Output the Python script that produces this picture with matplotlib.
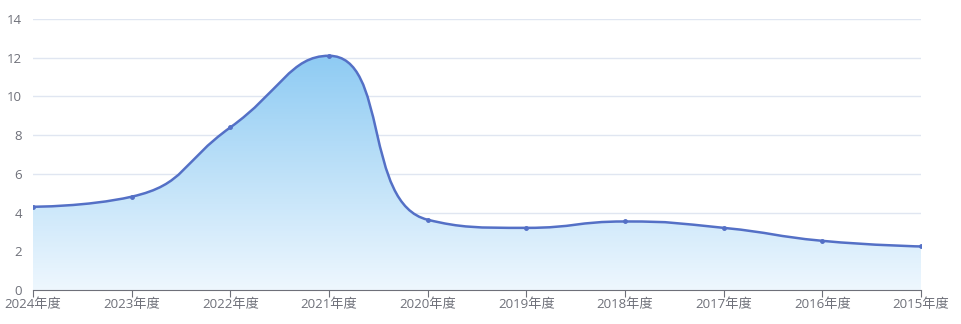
import numpy as np
import matplotlib
matplotlib.use("Agg")
import matplotlib.pyplot as plt
from matplotlib.path import Path
from matplotlib.patches import PathPatch
from matplotlib.colors import LinearSegmentedColormap

plt.rcParams['font.family'] = ['Open Sans', 'Noto Sans CJK SC', 'DejaVu Sans']

years = ['2024年度', '2023年度', '2022年度', '2021年度', '2020年度',
         '2019年度', '2018年度', '2017年度', '2016年度', '2015年度']
values = [4.30, 4.82, 8.40, 12.10, 3.63, 3.21, 3.54, 3.21, 2.54, 2.25]

line_color = '#5470c6'
grid_color = '#e0e6f1'
text_color = '#6e7079'

fig = plt.figure(figsize=(9.62, 3.24), dpi=100)
ax = fig.add_axes([33 / 962, 34 / 324, 888 / 962, 271 / 324])
x = np.arange(len(years))
ax.set_xlim(0, len(years) - 1)
ax.set_ylim(0, 14)


def smooth_path(px, py, smooth=0.5):
    # echarts-like bezier smoothing, done in pixel space
    pts = ax.transData.transform(np.column_stack([px, py]))
    n = len(pts)
    verts = [tuple(pts[0])]
    codes = [Path.MOVETO]
    cp0 = pts[0].copy()
    for k in range(1, n):
        prev = pts[k - 1]
        cur = pts[k]
        if k >= n - 1:
            cp1 = cur.copy()
            nxt_cp = cur.copy()
        else:
            nxt = pts[k + 1]
            v = nxt - prev
            lp = np.hypot(*(cur - prev))
            ln = np.hypot(*(nxt - cur))
            r = ln / (ln + lp)
            ncp = cur + v * smooth * r
            ncp = np.minimum(ncp, np.maximum(nxt, cur))
            ncp = np.maximum(ncp, np.minimum(nxt, cur))
            v = ncp - cur
            cp1 = cur - v * lp / ln
            cp1 = np.minimum(cp1, np.maximum(prev, cur))
            cp1 = np.maximum(cp1, np.minimum(prev, cur))
            v = cur - cp1
            nxt_cp = cur + v * ln / lp
        verts += [tuple(cp0), tuple(cp1), tuple(cur)]
        codes += [Path.CURVE4] * 3
        cp0 = nxt_cp
    inv = ax.transData.inverted()
    return inv.transform(np.array(verts)), codes


verts, codes = smooth_path(x, values)

# area fill with vertical gradient
area_verts = np.vstack([verts, [[x[-1], 0], [x[0], 0], verts[0]]])
area_codes = codes + [Path.LINETO, Path.LINETO, Path.CLOSEPOLY]
area = PathPatch(Path(area_verts, area_codes), facecolor='none', edgecolor='none')
ax.add_patch(area)
cmap = LinearSegmentedColormap.from_list('g', ['#eef7fe', '#8ecbf3'])
grad = np.linspace(0, 1, 256).reshape(-1, 1)
im = ax.imshow(grad, cmap=cmap, aspect='auto', origin='lower',
               extent=[x[0], x[-1], 0, max(values)], zorder=1)
im.set_clip_path(area)

ax.add_patch(PathPatch(Path(verts, codes), facecolor='none', edgecolor=line_color,
                       lw=1.8, zorder=3))
ax.plot(x, values, 'o', color=line_color, ms=2.5, zorder=4)

ax.set_xlim(0, len(years) - 1)
ax.set_ylim(0, 14)
ax.set_yticks(range(0, 15, 2))
ax.set_xticks(x)
ax.set_xticklabels(years)
ax.grid(axis='y', color=grid_color, lw=1)
ax.set_axisbelow(True)
for s in ['top', 'right', 'left']:
    ax.spines[s].set_visible(False)
ax.spines['bottom'].set_color(text_color)
ax.spines['bottom'].set_zorder(5)
ax.tick_params(axis='y', length=0, pad=8, colors=text_color, labelsize=9.5)
ax.tick_params(axis='x', length=5, color=text_color, colors=text_color, labelsize=9.5, pad=1)

fig.savefig('out.png', dpi=100)
